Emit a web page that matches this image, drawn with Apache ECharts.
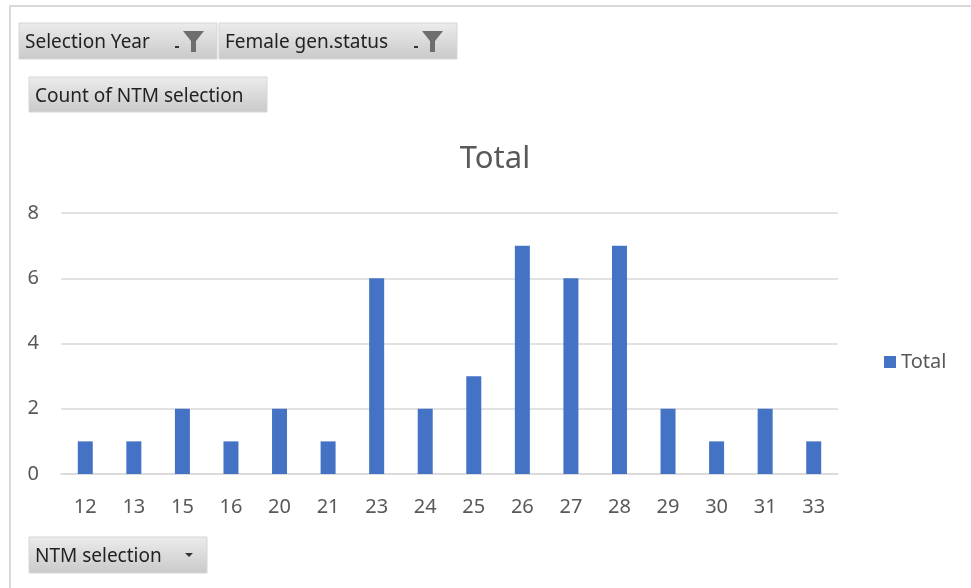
<!DOCTYPE html>
<html lang="en">
<head>
<meta charset="UTF-8">
<title>Total</title>
<style>
  html, body { margin: 0; padding: 0; background: #fff; }
  #main { width: 971px; height: 588px; }
</style>
</head>
<body>
<div id="main"></div>
<script src="https://cdn.jsdelivr.net/npm/echarts@6/dist/echarts.min.js"></script>
<script>
// categories (NTM selection) and counts
var categories = ['12', '13', '15', '16', '20', '21', '23', '24', '25', '26', '27', '28', '29', '30', '31', '33'];
var totals = [1, 1, 2, 1, 2, 1, 6, 2, 3, 7, 6, 7, 2, 1, 2, 1];
var yTicks = [0, 2, 4, 6, 8];

var chart = echarts.init(document.getElementById('main'));
var FONT = '"Noto Sans", "Open Sans", sans-serif';

// pivot field button background
function btnFill() {
    return new echarts.graphic.LinearGradient(0, 0, 0, 1, [
        { offset: 0, color: '#ececec' },
        { offset: 1, color: '#c9c9c9' }
    ]);
}

function fieldButton(x, y, w, h, label) {
    return [{
        type: 'rect',
        shape: { x: x, y: y, width: w, height: h },
        style: { fill: btnFill(), stroke: '#d6d6d6', lineWidth: 1 }
    }, {
        type: 'text',
        x: x + 6, y: y + h / 2 + 2,
        style: { text: label, font: '19px ' + FONT, fill: '#222', verticalAlign: 'middle' }
    }];
}

// little funnel + dash used on filter buttons
function filterIcon(x, y) {
    return [{
        type: 'rect',
        shape: { x: x, y: y + 15, width: 4, height: 2 },
        style: { fill: '#333' }
    }, {
        type: 'polygon',
        shape: { points: [[x + 8, y], [x + 29, y], [x + 21, y + 10], [x + 21, y + 21], [x + 16, y + 21], [x + 16, y + 10]] },
        style: { fill: '#6e6e6e' }
    }];
}

var graphics = [];
// chart area border (top + left only visible)
graphics.push({ type: 'line', shape: { x1: 9, y1: 6, x2: 971, y2: 6 }, style: { stroke: '#d9d9d9', lineWidth: 2 } });
graphics.push({ type: 'line', shape: { x1: 10, y1: 6, x2: 10, y2: 588 }, style: { stroke: '#d9d9d9', lineWidth: 2 } });
graphics = graphics.concat(fieldButton(19, 23, 198, 36, 'Selection Year'));
graphics = graphics.concat(filterIcon(175, 31));
graphics = graphics.concat(fieldButton(219, 23, 238, 36, 'Female gen.status'));
graphics = graphics.concat(filterIcon(414, 31));
graphics = graphics.concat(fieldButton(29, 77, 238, 35, 'Count of NTM selection'));
graphics = graphics.concat(fieldButton(29, 537, 178, 36, 'NTM selection'));
graphics.push({
    type: 'polygon',
    shape: { points: [[185, 553], [193, 553], [189, 557]] },
    style: { fill: '#333' }
});

var option = {
    animation: false,
    title: {
        text: 'Total',
        left: 490,
        textAlign: 'center',
        top: 139,
        textStyle: { fontFamily: FONT, fontSize: 31, fontWeight: 'normal', color: '#595959' }
    },
    legend: {
        data: ['Total'],
        left: 879,
        top: 347,
        icon: 'rect',
        itemWidth: 12,
        itemHeight: 12,
        itemGap: 8,
        textStyle: { fontFamily: FONT, fontSize: 20, color: '#595959' }
    },
    grid: { left: 61, right: 133, top: 213, bottom: 114, containLabel: false },
    xAxis: {
        type: 'category',
        data: categories,
        axisLine: { lineStyle: { color: '#d9d9d9', width: 1.5 } },
        axisTick: { show: false },
        axisLabel: { fontFamily: FONT, fontSize: 20, color: '#595959', margin: 23 }
    },
    yAxis: {
        type: 'value',
        min: yTicks[0],
        max: yTicks[yTicks.length - 1],
        interval: 2,
        axisLine: { show: false },
        axisTick: { show: false },
        axisLabel: { fontFamily: FONT, fontSize: 20, color: '#595959', margin: 22 },
        splitLine: { lineStyle: { color: '#d9d9d9', width: 1.5 } }
    },
    series: [{
        name: 'Total',
        type: 'bar',
        data: totals,
        barWidth: 15,
        itemStyle: { color: '#4472c4' }
    }],
    graphic: graphics
};

chart.setOption(option);
</script>
</body>
</html>
